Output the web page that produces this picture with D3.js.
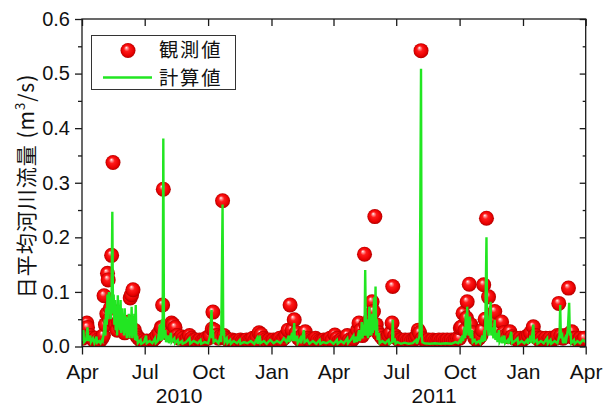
<!DOCTYPE html>
<html>
<head>
<meta charset="utf-8">
<script src="https://cdn.jsdelivr.net/npm/d3@7"></script>
<style>
  body { margin: 0; background: #fff; }
  svg { display: block; font-family: "Liberation Sans", Arial, sans-serif; }
</style>
</head>
<body>
<div id="chart"></div>
<script>
const width = 605;
const height = 409;

// observed daily flow: [days since 2010-04-01, m3/s]
const observed = [
  [1,0.015],[4,0.02],[7,0.043],[8,0.035],[11,0.02],[14,0.015],[17,0.012],[20,0.015],[23,0.012],[26,0.01],[29,0.015],
  [31,0.02],[32,0.093],[34,0.04],[36,0.06],[37,0.134],[38,0.122],[40,0.05],[41,0.07],[43,0.167],[45,0.337],[47,0.05],
  [49,0.04],[51,0.03],[53,0.045],[56,0.035],[59,0.03],[62,0.025],[65,0.035],[68,0.045],[70,0.089],[72,0.095],[74,0.104],
  [76,0.03],[79,0.02],[82,0.015],[85,0.012],[88,0.01],[91,0.008],[94,0.01],[97,0.008],[100,0.01],[103,0.012],[106,0.015],
  [109,0.02],[112,0.025],[115,0.035],[116,0.034],[117,0.076],[118,0.288],[121,0.03],[124,0.025],[127,0.035],[130,0.043],
  [132,0.04],[135,0.035],[138,0.02],[141,0.015],[144,0.018],[147,0.015],[150,0.012],[153,0.015],[156,0.02],[159,0.015],
  [162,0.012],[165,0.012],[168,0.01],[171,0.012],[174,0.01],[177,0.012],[180,0.015],[183,0.015],[186,0.02],[189,0.032],
  [190,0.063],[192,0.03],[195,0.02],[198,0.015],[201,0.018],[204,0.267],[206,0.02],[209,0.015],[212,0.012],[215,0.01],
  [218,0.012],[221,0.01],[224,0.01],[227,0.008],[230,0.012],[233,0.01],[236,0.01],[239,0.012],[242,0.01],[245,0.012],
  [248,0.015],[251,0.012],[254,0.018],[257,0.025],[260,0.022],[263,0.015],[266,0.012],[269,0.01],[272,0.012],[275,0.01],
  [278,0.012],[281,0.01],[284,0.012],[287,0.015],[290,0.012],[293,0.015],[296,0.02],[299,0.03],[302,0.076],[305,0.03],
  [308,0.049],[311,0.025],[314,0.015],[317,0.012],[320,0.02],[324,0.027],[327,0.015],[330,0.012],[333,0.01],[336,0.012],
  [339,0.015],[342,0.012],[345,0.01],[348,0.01],[351,0.012],[354,0.01],[357,0.012],[360,0.015],[363,0.012],[367,0.021],
  [370,0.015],[373,0.01],[376,0.012],[379,0.01],[382,0.012],[385,0.02],[388,0.012],[391,0.01],[394,0.015],[397,0.02],
  [400,0.03],[402,0.043],[405,0.03],[407,0.02],[410,0.169],[412,0.04],[414,0.03],[416,0.04],[418,0.05],[420,0.06],
  [421,0.082],[423,0.064],[425,0.238],[427,0.04],[430,0.025],[433,0.02],[436,0.015],[439,0.012],[442,0.015],[445,0.02],
  [448,0.025],[450,0.043],[451,0.11],[454,0.02],[457,0.015],[460,0.012],[463,0.012],[466,0.01],[469,0.012],[472,0.01],
  [475,0.012],[478,0.01],[481,0.012],[484,0.015],[486,0.02],[488,0.03],[490,0.025],[492,0.542],[494,0.015],[497,0.012],
  [500,0.01],[503,0.012],[506,0.01],[509,0.012],[512,0.01],[515,0.01],[518,0.012],[521,0.01],[524,0.012],[527,0.01],
  [530,0.012],[533,0.01],[536,0.012],[539,0.01],[542,0.012],[545,0.015],[548,0.015],[549,0.034],[551,0.036],[553,0.061],
  [556,0.03],[558,0.052],[559,0.082],[562,0.114],[564,0.04],[567,0.025],[570,0.015],[573,0.012],[576,0.015],[579,0.02],
  [581,0.03],[583,0.113],[585,0.05],[587,0.235],[590,0.091],[593,0.045],[596,0.05],[599,0.064],[602,0.035],[605,0.03],
  [609,0.045],[612,0.025],[615,0.02],[618,0.018],[621,0.027],[624,0.018],[627,0.015],[630,0.015],[633,0.012],[636,0.015],
  [639,0.012],[642,0.015],[645,0.018],[648,0.02],[651,0.025],[655,0.036],[658,0.02],[661,0.015],[664,0.012],[667,0.015],
  [670,0.012],[673,0.015],[676,0.012],[679,0.015],[682,0.012],[685,0.015],[688,0.015],[690,0.02],[692,0.079],[695,0.02],
  [698,0.015],[701,0.018],[703,0.02],[706,0.107],[708,0.024],[711,0.027],[714,0.015],[717,0.015],[720,0.012],[723,0.015],
  [726,0.012],[729,0.015]
];

// computed daily flow: [days since 2010-04-01, m3/s]
const computed = [
  [0,0.01],[2,0.03],[3,0.008],[6,0.012],[8,0.035],[9,0.01],[12,0.02],[13,0.008],[16,0.015],[18,0.006],[21,0.018],
  [22,0.007],[25,0.01],[27,0.006],[29,0.012],[30,0.01],[32,0.03],[33,0.05],[34,0.02],[35,0.07],[36,0.04],[37,0.095],
  [38,0.05],[39,0.1],[40,0.06],[41,0.09],[42,0.05],[43,0.1],[44,0.247],[45,0.06],[46,0.095],[47,0.04],[48,0.085],
  [49,0.03],[50,0.06],[51,0.02],[52,0.094],[53,0.035],[54,0.07],[55,0.03],[56,0.085],[57,0.025],[58,0.07],[59,0.03],
  [60,0.06],[61,0.02],[62,0.07],[63,0.025],[64,0.055],[65,0.015],[66,0.05],[67,0.02],[68,0.06],[69,0.015],[70,0.045],
  [71,0.02],[72,0.073],[73,0.015],[74,0.05],[75,0.02],[76,0.06],[77,0.012],[78,0.076],[79,0.01],[80,0.02],[81,0.006],
  [85,0.012],[86,0.005],[90,0.008],[93,0.02],[94,0.006],[98,0.01],[102,0.006],[106,0.015],[107,0.006],[110,0.01],
  [113,0.04],[114,0.01],[116,0.05],[117,0.012],[118,0.381],[119,0.015],[121,0.03],[122,0.008],[125,0.02],[126,0.006],
  [129,0.025],[130,0.008],[134,0.015],[135,0.006],[139,0.012],[140,0.005],[145,0.01],[146,0.005],[151,0.008],
  [156,0.015],[157,0.005],[162,0.01],[168,0.006],[172,0.012],[173,0.005],[178,0.008],[183,0.006],[186,0.02],
  [188,0.067],[189,0.015],[190,0.03],[191,0.008],[194,0.012],[198,0.006],[201,0.02],[202,0.008],[204,0.26],[205,0.02],
  [206,0.03],[207,0.008],[210,0.015],[211,0.006],[215,0.012],[216,0.005],[220,0.01],[225,0.006],[229,0.012],
  [230,0.005],[235,0.008],[240,0.006],[245,0.01],[250,0.005],[254,0.015],[255,0.005],[258,0.02],[259,0.006],
  [264,0.01],[268,0.005],[273,0.012],[278,0.006],[283,0.01],[288,0.006],[293,0.015],[297,0.008],[300,0.02],
  [301,0.008],[305,0.025],[306,0.01],[308,0.043],[309,0.01],[312,0.02],[313,0.006],[317,0.015],[318,0.006],
  [322,0.03],[323,0.008],[327,0.012],[330,0.005],[335,0.01],[340,0.005],[345,0.012],[346,0.005],[350,0.008],
  [355,0.006],[360,0.01],[365,0.005],[370,0.012],[371,0.005],[376,0.01],[380,0.006],[385,0.015],[386,0.006],
  [390,0.012],[394,0.02],[395,0.007],[398,0.018],[399,0.008],[402,0.03],[403,0.01],[405,0.02],[406,0.045],[407,0.015],
  [409,0.04],[410,0.02],[411,0.14],[412,0.03],[413,0.02],[414,0.05],[415,0.015],[417,0.073],[418,0.02],[419,0.04],
  [420,0.02],[421,0.06],[422,0.025],[424,0.09],[425,0.03],[426,0.11],[427,0.02],[428,0.05],[429,0.012],[431,0.025],
  [432,0.006],[436,0.01],[440,0.006],[445,0.012],[446,0.005],[450,0.008],[451,0.049],[452,0.008],[454,0.015],
  [455,0.005],[458,0.008],[463,0.005],[468,0.007],[474,0.005],[480,0.006],[485,0.012],[486,0.005],[490,0.02],
  [492,0.509],[493,0.02],[494,0.008],[497,0.006],[505,0.005],[512,0.006],[520,0.005],[528,0.006],[536,0.005],
  [542,0.008],[546,0.006],[549,0.012],[550,0.006],[552,0.02],[553,0.01],[555,0.035],[556,0.015],[557,0.06],
  [558,0.02],[559,0.073],[560,0.025],[561,0.05],[562,0.02],[563,0.055],[564,0.015],[566,0.03],[567,0.008],
  [570,0.012],[572,0.006],[576,0.01],[578,0.006],[581,0.02],[582,0.008],[584,0.03],[585,0.01],[587,0.2],[588,0.03],
  [589,0.04],[590,0.02],[592,0.06],[593,0.082],[594,0.02],[596,0.035],[597,0.015],[599,0.049],[600,0.012],
  [602,0.025],[603,0.008],[605,0.03],[606,0.008],[609,0.015],[610,0.006],[613,0.02],[614,0.006],[618,0.012],
  [619,0.005],[623,0.027],[624,0.006],[628,0.01],[632,0.015],[633,0.005],[638,0.01],[642,0.006],[646,0.012],
  [647,0.005],[651,0.02],[652,0.006],[655,0.04],[656,0.008],[660,0.012],[661,0.005],[666,0.01],[670,0.006],
  [675,0.015],[676,0.005],[680,0.012],[681,0.005],[686,0.01],[690,0.006],[693,0.02],[694,0.076],[695,0.015],
  [697,0.02],[698,0.006],[701,0.015],[702,0.006],[705,0.03],[707,0.08],[708,0.02],[709,0.025],[710,0.006],
  [714,0.012],[715,0.005],[719,0.01],[723,0.006],[727,0.012],[731,0.008]
];

const monthTicks = ["2010-04-01","2010-07-01","2010-10-01","2011-01-01","2011-04-01","2011-07-01","2011-10-01","2012-01-01","2012-04-01"];
const monthLabels = ["Apr","Jul","Oct","Jan","Apr","Jul","Oct","Jan","Apr"];
const yearLabels = ["2010","2011"];
const yearLabelDates = ["2010-08-20","2011-08-25"];
const yTicks = [0, 0.1, 0.2, 0.3, 0.4, 0.5, 0.6];
const yMinorTicks = [0.05, 0.15, 0.25, 0.35, 0.45, 0.55];
const legendLabels = ["観測値", "計算値"];

const start = new Date(2010, 3, 1);
const parse = d3.timeParse("%Y-%m-%d");
const day = d => d3.timeDay.offset(start, d);

const plot = { left: 82, right: 585.7, top: 19, bottom: 346.5 };

const x = d3.scaleTime()
  .domain([start, new Date(2012, 3, 1)])
  .range([plot.left, plot.right]);

const y = d3.scaleLinear()
  .domain([0, 0.6])
  .range([plot.bottom, plot.top]);

const svg = d3.select("#chart")
  .append("svg")
  .attr("width", width)
  .attr("height", height);

const defs = svg.append("defs");

defs.append("clipPath")
  .attr("id", "plot-clip")
  .append("rect")
  .attr("x", plot.left)
  .attr("y", plot.top)
  .attr("width", plot.right - plot.left)
  .attr("height", plot.bottom - plot.top);

// shiny red ball
const grad = defs.append("radialGradient")
  .attr("id", "ball")
  .attr("cx", "50%").attr("cy", "50%").attr("r", "50%")
  .attr("fx", "38%").attr("fy", "30%");
grad.selectAll("stop")
  .data([
    [0, "#ffffff"], [0.14, "#ff9a9a"], [0.38, "#ff1a1a"], [0.8, "#e80000"], [1, "#b00000"]
  ])
  .join("stop")
  .attr("offset", d => d[0])
  .attr("stop-color", d => d[1]);

const r = 7.5;

const marks = svg.append("g").attr("clip-path", "url(#plot-clip)");

marks.selectAll("circle")
  .data(observed)
  .join("circle")
  .attr("cx", d => x(day(d[0])))
  .attr("cy", d => y(d[1]))
  .attr("r", r)
  .attr("fill", "url(#ball)");

const line = d3.line()
  .x(d => x(day(d[0])))
  .y(d => y(d[1]));

marks.append("path")
  .datum(computed)
  .attr("d", line)
  .attr("fill", "none")
  .attr("stroke", "#22e622")
  .attr("stroke-width", 2.4)
  .attr("stroke-linejoin", "miter");

// axes
const tickDates = monthTicks.map(parse);
const axisColor = "#1a1a1a";

function styleAxis(g) {
  g.select(".domain").remove();
  g.selectAll(".tick line").attr("stroke", axisColor).attr("stroke-width", 1.3);
  g.selectAll("text").attr("fill", "#111");
}

svg.append("g")
  .attr("transform", `translate(0,${plot.bottom})`)
  .call(d3.axisBottom(x).tickValues(tickDates).tickSize(8).tickPadding(10)
    .tickFormat((d, i) => monthLabels[i]))
  .call(styleAxis)
  .selectAll("text")
  .attr("font-size", 21);

svg.append("g")
  .attr("transform", `translate(0,${plot.top})`)
  .call(d3.axisTop(x).tickValues(tickDates).tickSize(-7).tickFormat(""))
  .call(styleAxis);

svg.append("g")
  .attr("transform", `translate(${plot.left},0)`)
  .call(d3.axisLeft(y).tickValues(yTicks).tickSize(7).tickPadding(5).tickFormat(d3.format(".1f")))
  .call(styleAxis)
  .selectAll("text")
  .attr("font-size", 20);

svg.append("g")
  .attr("transform", `translate(${plot.left},0)`)
  .call(d3.axisLeft(y).tickValues(yMinorTicks).tickSize(4).tickFormat(""))
  .call(styleAxis);

svg.append("g")
  .attr("transform", `translate(${plot.right},0)`)
  .call(d3.axisRight(y).tickValues(yTicks).tickSize(-6).tickFormat(""))
  .call(styleAxis);

svg.append("g")
  .attr("transform", `translate(${plot.right},0)`)
  .call(d3.axisRight(y).tickValues(yMinorTicks).tickSize(-3).tickFormat(""))
  .call(styleAxis);

svg.append("rect")
  .attr("x", plot.left)
  .attr("y", plot.top)
  .attr("width", plot.right - plot.left)
  .attr("height", plot.bottom - plot.top)
  .attr("fill", "none")
  .attr("stroke", axisColor)
  .attr("stroke-width", 1.3);

svg.selectAll(".year-label")
  .data(yearLabels)
  .join("text")
  .attr("class", "year-label")
  .attr("x", (d, i) => x(parse(yearLabelDates[i])))
  .attr("y", 403)
  .attr("text-anchor", "middle")
  .attr("font-size", 21)
  .attr("fill", "#111")
  .text(d => d);

// y title
const yTitle = svg.append("text")
  .attr("transform", "translate(34,186) rotate(-90)")
  .attr("text-anchor", "middle")
  .attr("font-size", 21)
  .attr("letter-spacing", 1)
  .attr("fill", "#111")
  .style("font-family", "'Noto Sans CJK JP', sans-serif");
yTitle.append("tspan").text("日平均河川流量 (m");
yTitle.append("tspan").attr("baseline-shift", "super").attr("font-size", 13).text("3");
yTitle.append("tspan").text("/s)");

// legend
const legendRows = [50.5, 78.5];
const legend = svg.append("g");
legend.append("rect")
  .attr("x", 91.5).attr("y", 35.5)
  .attr("width", 144).attr("height", 54)
  .attr("fill", "#fff")
  .attr("stroke", "#333")
  .attr("stroke-width", 1);

legend.append("circle")
  .attr("cx", 128).attr("cy", legendRows[0]).attr("r", r)
  .attr("fill", "url(#ball)");

legend.append("line")
  .attr("x1", 103).attr("x2", 152)
  .attr("y1", legendRows[1] - 1).attr("y2", legendRows[1] - 1)
  .attr("stroke", "#22e622")
  .attr("stroke-width", 2.4);

legend.selectAll(".legend-text")
  .data(legendLabels)
  .join("text")
  .attr("class", "legend-text")
  .attr("x", 159)
  .attr("y", (d, i) => legendRows[i])
  .attr("dy", "0.36em")
  .attr("font-size", 19.3)
  .attr("letter-spacing", 1.8)
  .attr("fill", "#111")
  .style("font-family", "'Noto Sans CJK JP', sans-serif")
  .text(d => d);
</script>
</body>
</html>
